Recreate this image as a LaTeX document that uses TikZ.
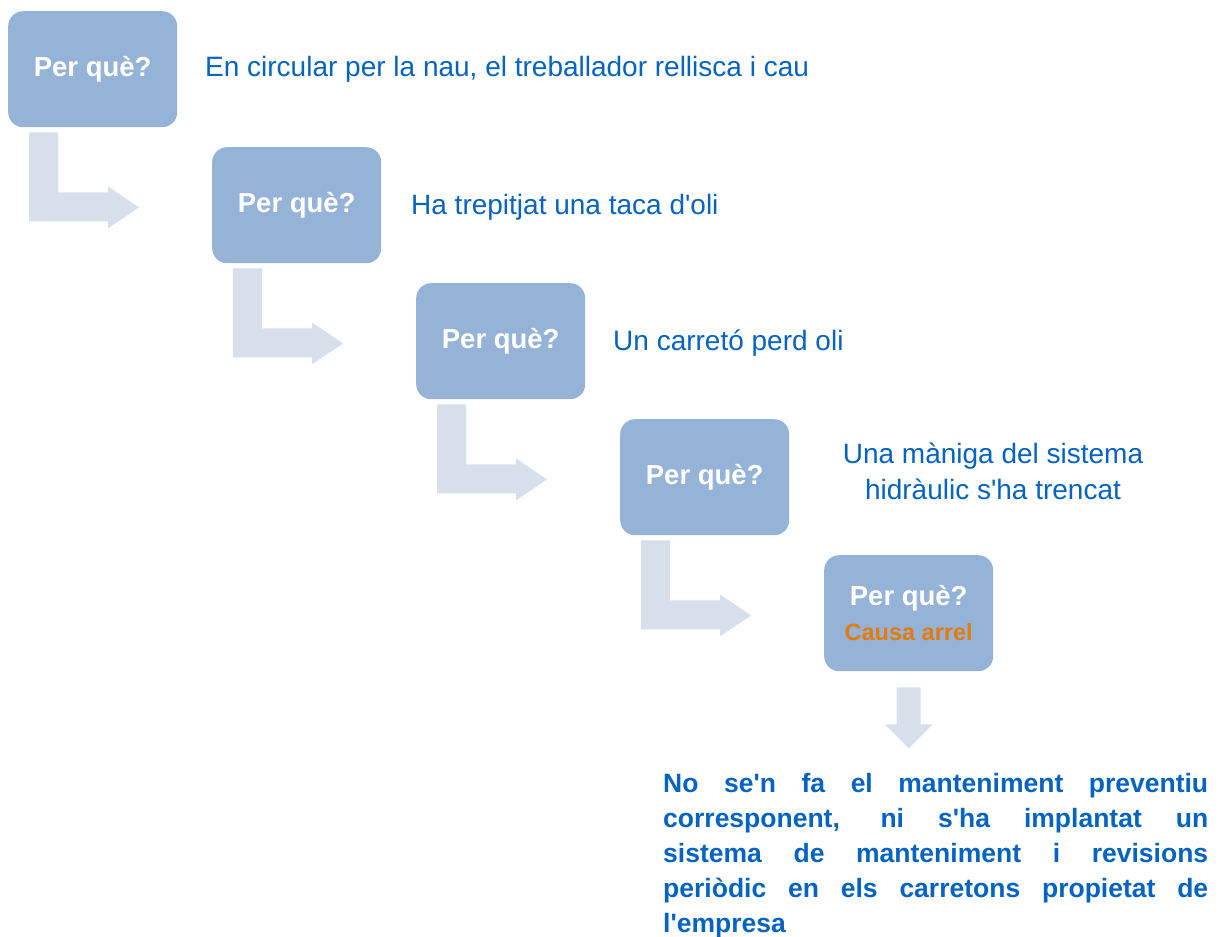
\documentclass[tikz,border=0pt]{standalone}
\usepackage{fontspec}
\setmainfont{Liberation Sans}
\usetikzlibrary{calc}
\definecolor{boxfill}{HTML}{95B3D7}
\definecolor{arrowfill}{HTML}{D6DFEA}
\definecolor{tblue}{HTML}{0563C1}
\definecolor{corange}{HTML}{E47A0A}
\newcommand{\apos}{\textquotesingle}
\tikzset{
  pq/.style={fill=boxfill, draw=none, rounded corners=15pt, minimum width=169pt,
    minimum height=116pt, inner sep=0pt, anchor=north west, text=white,
    font=\bfseries\fontsize{27.5}{37}\selectfont, align=center},
  answer/.style={text=tblue, font=\fontsize{28}{36}\selectfont, inner sep=0pt},
  blockarrow/.style={fill=arrowfill, draw=none},
}
\begin{document}
\begin{tikzpicture}[x=1pt,y=-1pt]
\useasboundingbox (0,0) rectangle (1222,936);
% boxes
\node[pq] (b1) at (8,11) {Per què?};
\node[pq] (b2) at (212,147) {Per què?};
\node[pq] (b3) at (416,283) {Per què?};
\node[pq] (b4) at (620,419) {Per què?};
\node[pq] (b5) at (824,555) {Per què?\\[-2pt]{\color{corange}\fontsize{23.5}{28}\selectfont Causa arrel}};
% answers
\node[answer, anchor=base west] (t1) at (205,77) {En circular per la nau, el treballador rellisca i cau};
\node[answer, anchor=base west] (t2) at (411,214) {Ha trepitjat una taca d\apos oli};
\node[answer, anchor=base west] (t3) at (613,350) {Un carretó perd oli};
\node[answer, align=center] (t4) at (993,471) {Una màniga del sistema\\hidràulic s\apos ha trencat};
% elbow arrows
\foreach \i/\j in {1/2,2/3,3/4,4/5}{
  \fill[blockarrow]
    ($(b\i.south west)+(21,5)$) -- ($(b\i.south west)+(50,5)$)
    -- ($(b\i.south west)+(50,65)$) -- ($(b\i.south west)+(100,65)$)
    -- ($(b\i.south west)+(100,59)$) -- ($(b\i.south west)+(131,80)$)
    -- ($(b\i.south west)+(100,101)$) -- ($(b\i.south west)+(100,94)$)
    -- ($(b\i.south west)+(21,94)$) -- cycle;
}
% down arrow
\fill[blockarrow]
  ($(b5.south)+(-12,16)$) -- ($(b5.south)+(12,16)$) -- ($(b5.south)+(12,53)$)
  -- ($(b5.south)+(24,53)$) -- ($(b5.south)+(0,77)$) -- ($(b5.south)+(-24,53)$)
  -- ($(b5.south)+(-12,53)$) -- cycle;
% root cause text
\node[anchor=base west, inner sep=0pt, text width=545pt, align=justify, text=tblue,
  font=\bfseries\fontsize{26.5}{35}\selectfont] (t5) at (663,792)
  {No se\apos n fa el manteniment preventiu\linebreak
   corresponent, ni s\apos ha implantat un\linebreak
   sistema de manteniment i revisions\linebreak
   periòdic en els carretons propietat de\linebreak
   l\apos empresa};
\end{tikzpicture}
\end{document}
